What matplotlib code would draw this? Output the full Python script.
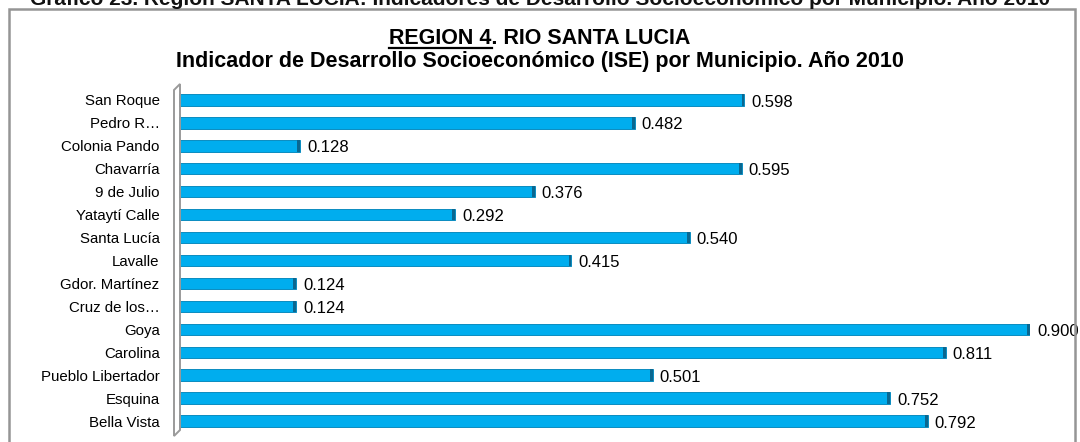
import matplotlib.pyplot as plt
from matplotlib.patches import Rectangle, Polygon

plt.rcParams['font.family'] = ['Liberation Sans', 'DejaVu Sans']

# ISE por municipio, Región 4 (Río Santa Lucía), año 2010
municipios = ['San Roque', 'Pedro R…', 'Colonia Pando', 'Chavarría', '9 de Julio',
              'Yataytí Calle', 'Santa Lucía', 'Lavalle', 'Gdor. Martínez',
              'Cruz de los…', 'Goya', 'Carolina', 'Pueblo Libertador',
              'Esquina', 'Bella Vista']
ise = [0.598, 0.482, 0.128, 0.595, 0.376, 0.292, 0.540, 0.415, 0.124,
       0.124, 0.900, 0.811, 0.501, 0.752, 0.792]

W, H = 1080, 442
fig = plt.figure(figsize=(W / 100, H / 100), dpi=100)

# marco del gráfico
fig.patches.append(Rectangle((9 / W, -0.05), 1066 / W, 1.05 - 9 / H,
                             transform=fig.transFigure, fill=False,
                             edgecolor='#959595', linewidth=1.8))

# leyenda superior (recortada por el borde)
fig.text(0.5, 1 - 5 / H, 'Gráfico 23. Región SANTA LUCIA: Indicadores de Desarrollo '
         'Socioeconómico por Municipio. Año 2010', ha='center', va='baseline',
         fontsize=15, fontweight='bold', color='#111111')

# títulos
t1 = fig.text(0.5, 1 - 38 / H, 'REGION 4. RIO SANTA LUCIA', ha='center', va='center',
              fontsize=15.5, fontweight='bold')
fig.text(0.5, 1 - 62 / H, 'Indicador de Desarrollo Socioeconómico (ISE) por Municipio. Año 2010',
         ha='center', va='center', fontsize=15.5, fontweight='bold')

ax = fig.add_axes([179 / W, 1 - 432.5 / H, (1030 - 179) / W, (432.5 - 88.5) / H])
y = list(range(len(municipios)))
ax.barh(y, ise, height=0.5, color='#00adee', edgecolor='#0b8cc0', linewidth=0.7)
# extremo oscuro de cada barra
ax.barh(y, [0.003] * len(ise), left=[v - 0.003 for v in ise], height=0.5,
        color='#0a6790', linewidth=0)
for yi, v in zip(y, ise):
    ax.annotate(f'{v:.3f}', (v, yi), xytext=(5, -1.5), textcoords='offset points',
                ha='left', va='center', fontsize=12)

ax.set_xlim(0, 0.9)
ax.set_ylim(len(municipios) - 0.5, -0.5)
ax.set_yticks(y)
ax.set_yticklabels(municipios, fontsize=10.8)
ax.tick_params(axis='y', length=0, pad=14)
ax.set_xticks([])
for s in ax.spines.values():
    s.set_visible(False)

# pared lateral en perspectiva
fig.patches.append(Polygon([(174, H - 90), (180, H - 84), (180, H - 430), (174, H - 436)],
                           closed=True, transform=None, fill=False,
                           edgecolor='#9a9a9a', linewidth=1.4))

# subrayado de "REGION 4"
fig.canvas.draw()
r = fig.canvas.get_renderer()
bb = t1.get_window_extent(r)
probe = fig.text(0, 0, 'REGION 4', fontsize=15.5, fontweight='bold')
pw = probe.get_window_extent(r).width
probe.remove()
fig.lines.append(plt.Line2D([bb.x0, bb.x0 + pw], [bb.y0 + 1, bb.y0 + 1], transform=None,
                            color='black', linewidth=1.6))

fig.savefig('out.png', dpi=100)
